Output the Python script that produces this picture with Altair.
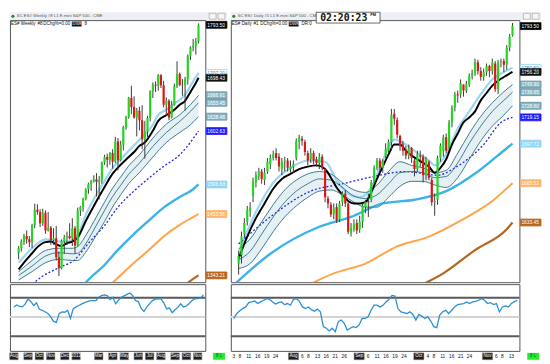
import altair as alt
import pandas as pd

FONT = "Liberation Sans"
GRID = "#e9e9e9"
GREEN = "#22d622"
RED = "#e01414"
WICK = "#3a3a3a"

# ---------------- weekly panel (left) ----------------
W_OPEN = [1383,1392,1404,1414,1408,1403,1434,1461,1457,1437,1456,1424,1429,1407,1410,1376,1356,1405,1411,1414,
          1410,1428,1397,1460,1466,1481,1498,1508,1513,1516,1511,1514,1546,1556,1551,1563,1548,1584,1550,1578,
          1610,1628,1662,1646,1627,1639,1622,1588,1602,1626,1674,1686,1684,1703,1685,1650,1657,1627,1650,1683,
          1705,1686,1685,1696,1738,1753,1756,1764]
W_HIGH = [1396,1408,1418,1424,1414,1436,1472,1471,1462,1463,1460,1457,1432,1428,1432,1386,1408,1416,1422,1437,
          1446,1432,1465,1468,1483,1500,1510,1515,1523,1527,1522,1548,1560,1562,1565,1570,1592,1590,1585,1612,
          1630,1664,1684,1665,1644,1646,1649,1621,1630,1676,1690,1692,1705,1705,1693,1663,1660,1657,1688,1728,
          1708,1696,1700,1740,1755,1768,1770,1796]
W_LOW = [1372,1386,1398,1400,1394,1392,1428,1452,1430,1432,1418,1422,1398,1398,1370,1342,1354,1382,1398,1408,
         1396,1383,1395,1450,1458,1478,1490,1495,1510,1485,1480,1508,1542,1537,1542,1535,1545,1532,1548,1568,
         1605,1625,1633,1625,1593,1604,1570,1553,1592,1620,1662,1673,1675,1680,1645,1630,1622,1625,1648,1680,
         1683,1666,1639,1686,1730,1746,1740,1760]
W_CLOSE = [1392,1404,1414,1408,1403,1434,1461,1457,1437,1456,1424,1429,1407,1410,1376,1356,1405,1411,1414,1410,
           1428,1397,1460,1466,1481,1498,1508,1513,1516,1511,1514,1546,1556,1551,1563,1548,1584,1550,1578,1610,
           1628,1662,1646,1627,1639,1622,1588,1602,1626,1674,1686,1684,1703,1685,1650,1657,1627,1650,1683,1705,
           1686,1685,1696,1738,1753,1756,1764,1793.5]
W_RSI = [60.4,62.5,61,60.5,63.7,68.8,66,62,64.8,58,57,55.5,53.6,50.5,45.5,44.4,53.6,55.3,55,57,
         48.5,58.7,60.5,62,63.7,65,66.1,67,67.1,67,70.5,72.2,72.9,72.2,68.1,70.5,63.7,67.5,70.5,72,
         73.5,74.9,72.2,67.1,66.1,59,55.9,60.4,64,67.1,68.5,68.8,68.8,64.8,58.7,59.3,54.6,57.5,60,63.7,
         60.4,61.4,64,67.1,68.8,69,69.5,72.9]
W_MONTH_POS = [0,5,9,13,18,22,30,35,39,44,48,52,57,61,65]
W_MONTH_TXT = ["Aug","Sep","Oct","Nov","Dec","2013","Mar","Apr","May","Jun","Jul","Aug","Sep","Oct","Nov"]

W_BLACK_I = [0,3,5,7,10,12,14,16,18,20,22,25,28,32,35,38,41,43,45,47,50,52,55,58,60,62,64,66,67]
W_BLACK = [1354,1372,1383,1394,1403,1404,1399,1396,1401,1404,1411,1441,1468,1502,1526,1542,1556,1565,1576,1582,
           1603,1621,1631,1641,1650,1657,1673,1689,1698.43]
W_LBLUE_I = [0,5,10,14,18,22,25,28,32,35,38,41,45,50,52,55,58,62,64,66,67]
W_LBLUE = [1366,1392,1408,1405,1404,1416,1452,1480,1513,1536,1552,1567,1587,1614,1632,1641,1652,1668,1684,1700,1707]
W_TEAL_I = [0,5,10,15,20,22,25,28,32,35,38,41,45,50,55,60,64,67]
W_TEAL1 = [1350,1370,1388,1392,1392,1395,1415,1440,1475,1500,1520,1540,1560,1590,1615,1632,1650,1666.91]
W_TEAL2 = [1343,1360,1378,1384,1382,1383,1400,1425,1460,1485,1505,1525,1545,1575,1600,1620,1638,1653.45]
W_TEAL3 = [1335,1350,1366,1372,1370,1370,1385,1408,1440,1466,1488,1508,1528,1556,1582,1600,1614,1628.48]
W_DOT_I = [3,9,15,21,26,32,37,43,49,54,60,65,67]
W_DOT = [1318,1342,1357,1372,1401,1433,1466,1495,1520,1539,1560,1589,1602.63]
W_BLUE_I = [22,25,32,37,43,49,54,60,65,67]
W_BLUE = [1310,1330,1362,1389,1418,1444,1465,1484,1498,1506.63]
W_ORANGE_I = [31,35,43,49,54,60,65,67]
W_ORANGE = [1312,1330,1366,1391,1413,1434,1448,1453.56]
W_BROWN_I = [60,63,67]
W_BROWN = [1318,1330,1343.21]
W_BADGE_V = [1793.50,1707.20,1698.43,1666.91,1653.45,1628.48,1602.63,1506.63,1453.56,1343.21]
W_BADGE_K = ["last","band","ma","teal","teal","teal","dot","sky","orange","brown"]

# ---------------- daily panel (right) ----------------
D_OPEN = [1600,1607,1624,1634,1643,1655,1666,1671,1675,1668,1675,1681,1686,1690,1687,1677,1683,1684,1677,1679,
          1686,1699,1702,1699,1690,1685,1690,1685,1682,1687,1677,1653,1648,1640,1646,1636,1650,1657,1649,1625,
          1628,1633,1628,1634,1646,1651,1652,1667,1678,1684,1678,1687,1692,1699,1722,1717,1704,1697,1693,1688,
          1694,1684,1677,1688,1687,1672,1683,1668,1650,1652,1686,1692,1703,1695,1715,1727,1738,1738,1746,1741,
          1746,1753,1755,1764,1757,1752,1756,1761,1757,1763,1742,1764,1765,1762,1776,1786]
D_HIGH = [1610,1626,1637,1647,1650,1670,1675,1678,1677,1678,1686,1689,1692,1694,1690,1686,1687,1686,1684,1684,
          1702,1705,1704,1701,1692,1694,1692,1687,1690,1689,1678,1655,1650,1649,1649,1651,1659,1660,1650,1633,
          1636,1636,1639,1649,1652,1657,1668,1680,1686,1686,1685,1698,1701,1726,1726,1719,1705,1700,1696,1697,
          1695,1686,1692,1692,1689,1687,1684,1670,1657,1688,1698,1705,1706,1717,1729,1740,1741,1750,1746,1749,
          1755,1758,1767,1766,1760,1759,1763,1762,1767,1765,1766,1767,1767,1778,1787,1796]
D_LOW = [1591,1600,1621,1631,1638,1650,1662,1668,1665,1664,1673,1677,1684,1684,1675,1672,1675,1675,1674,1674,
         1684,1693,1696,1688,1680,1682,1681,1679,1677,1676,1650,1645,1638,1636,1633,1634,1647,1646,1624,1622,
         1626,1624,1625,1629,1641,1638,1650,1665,1676,1674,1674,1686,1690,1692,1713,1702,1692,1688,1685,1685,
         1682,1671,1675,1679,1666,1668,1668,1647,1639,1648,1683,1687,1690,1693,1711,1724,1731,1735,1736,1739,
         1744,1750,1753,1754,1749,1749,1753,1752,1754,1740,1738,1760,1756,1758,1773,1785]
D_CLOSE = [1606,1622,1633,1644,1646,1667,1672,1675,1669,1674,1683,1686,1689,1686,1679,1683,1684,1678,1679,1681,
           1700,1703,1700,1691,1684,1690,1684,1682,1687,1678,1654,1649,1640,1645,1635,1649,1657,1649,1626,1629,
           1632,1627,1634,1647,1650,1650,1666,1678,1684,1678,1683,1693,1699,1721,1718,1705,1696,1692,1688,1694,
           1686,1677,1689,1687,1672,1685,1670,1650,1651,1686,1696,1703,1692,1715,1727,1738,1737,1747,1741,1746,
           1753,1755,1764,1757,1752,1756,1761,1757,1764,1742,1764,1765,1762,1776,1785,1793.5]
D_RSI = [48.6,53.7,56.5,58.8,60.5,65,65.7,66.7,64,65.7,67.4,69.1,68.4,65.7,63.5,65,65.7,62.9,64,62.3,
         68.4,69.1,66.3,60.5,58.8,60.5,57.5,56.1,58.2,55.4,40.1,38.4,35.6,38.4,34.9,45.2,46.9,43.5,36.6,38.4,
         40.1,39.1,41.8,48.6,48.6,50.3,57.1,62.3,62.3,60.5,62.3,65.7,68.4,72.5,71.8,58.8,55.4,54.7,53.7,55.4,
         52.7,46.9,52.7,51,48.6,50.3,45.9,40.1,39.1,52,55.4,57.1,53.7,57.1,60.5,62.9,63.5,64,65.7,64,
         65.7,66.3,67.4,69.1,67.4,64,65,62.9,64,55.4,60.5,61.6,60.5,64,66,67.4]
D_DAY_POS = [0,2,5,8,11,14,23,25,28,31,34,37,45,48,51,54,57,65,67,70,73,76,79,88,90,93]
D_DAY_TXT = ["3","8","11","16","19","24","6","8","13","16","21","26","6","11","16","19","24",
             "4","8","11","16","21","24","6","8","13"]
D_MONTH_POS = [20,42,62,85]
D_MONTH_TXT = ["Aug","Sep","Oct","Nov"]

D_BLACK_I = [0,3,6,9,12,15,18,21,24,27,30,32,34,36,38,40,42,44,46,48,50,52,54,56,58,60,62,64,66,68,70,72,74,76,78,
             80,82,84,86,88,90,92,95]
D_BLACK = [1604,1622,1637,1649,1661,1669,1673,1677,1679,1680,1677,1670,1662,1656,1651,1649,1649,1650,1658,1669,
           1679,1689,1697,1697,1692,1688,1685,1682,1679,1674,1678,1685,1697,1706,1715,1719,1724,1733,1739,1745,
           1749,1752,1756.2]
D_LBLUE_I = [0,6,12,18,24,30,34,38,42,46,50,54,58,62,66,68,72,76,80,84,88,92,95]
D_LBLUE = [1609,1642,1666,1678,1684,1683,1668,1657,1654,1662,1684,1701,1697,1690,1684,1680,1689,1710,1724,1738,
           1750,1756,1759.5]
D_TEAL_I = [0,4,8,12,16,20,24,28,32,36,40,44,48,52,56,60,64,68,72,76,80,84,88,92,95]
D_TEAL1 = [1612,1620,1634,1648,1660,1668,1673,1675,1673,1666,1660,1658,1664,1675,1683,1680,1678,1674,1676,1690,
           1706,1720,1731,1740,1745.9]
D_TEAL2 = [1603,1610,1624,1638,1650,1659,1665,1669,1668,1662,1655,1653,1656,1665,1674,1675,1674,1670,1671,1682,
           1698,1712,1724,1733,1739.65]
D_TEAL3 = [1596,1600,1612,1626,1638,1647,1654,1659,1660,1656,1650,1646,1646,1654,1663,1667,1667,1664,1662,1670,
           1685,1700,1712,1721,1728.6]
D_DOT_I = [0,11,25,36,47,58,69,75,80,85,91,95]
D_DOT = [1616,1638,1659,1665,1671,1675,1672,1678,1686,1697,1715,1719.15]
D_BLUE_I = [-1,11,28,39,50,61,72,83,93,95]
D_BLUE = [1584,1608,1630,1638,1649,1652,1659,1675,1694,1697.72]
D_ORANGE_I = [22,33,44,55,66,77,88,95]
D_ORANGE = [1580,1592,1600,1614,1622,1635,1651,1665.52]
D_BROWN_I = [60,71,82,93,95]
D_BROWN = [1579,1592,1611,1628,1633.45]
D_BADGE_V = [1793.50,1759.50,1756.20,1745.90,1739.65,1728.60,1719.15,1697.72,1665.52,1633.45]
D_BADGE_K = ["last","band","ma","teal","teal","teal","dot","sky","orange","brown"]

RSI_LEVELS = [70, 50, 30]

# ---------------- styles ----------------
BADGE_STYLE = {  # fill, stroke, text
    "last": ("#000000", "#000000", "#ffffff"),
    "band": ("#ffffff", "#8fd3f0", "#4a8fb0"),
    "ma": ("#111111", "#111111", "#ffffff"),
    "teal": ("#8cb6c4", "#5d8d9c", "#ffffff"),
    "dot": ("#1c1cff", "#1c1cff", "#ffffff"),
    "sky": ("#8fd5f6", "#8fd5f6", "#ffffff"),
    "orange": ("#ffb468", "#ffb468", "#ffffff"),
    "brown": ("#b8661c", "#b8661c", "#ffffff"),
}
LEVEL_STYLE = {70: ("#5a5a5a", 2), 50: ("#d4d4d4", 2), 30: ("#5a5a5a", 2)}

PW_L, PW_R, PH, IH = 199, 294, 267, 68


def one():
    return pd.DataFrame({"k": [0]})


def txt(x, y, s, size=5, color="#111", weight="normal", font=FONT, align="left"):
    return alt.Chart(one()).mark_text(align=align, baseline="middle", fontSize=size, font=font,
                                      color=color, fontWeight=weight).encode(
        x=alt.value(x), y=alt.value(y), text=alt.value(s))


def box(x1, x2, y1, y2, fill, stroke=None, sw=0.6):
    kw = dict(color=fill)
    if stroke:
        kw.update(stroke=stroke, strokeWidth=sw)
    return alt.Chart(one()).mark_rect(**kw).encode(
        x=alt.value(x1), x2=alt.value(x2), y=alt.value(y1), y2=alt.value(y2))


def line(idx, vals, color, width, xs, ys, dash=None, interp="monotone"):
    kw = dict(color=color, strokeWidth=width, clip=True, interpolate=interp)
    if dash:
        kw["strokeDash"] = dash
    return alt.Chart(pd.DataFrame({"i": idx, "v": vals})).mark_line(**kw).encode(
        x=alt.X("i:Q", scale=xs, axis=None), y=alt.Y("v:Q", scale=ys, axis=None))


def price_panel(o, h, l, c, xs, ys, W, ytick, grid_pos, lines, teal, badge_v, badge_k, hh,
                title, head_parts, tag_x, tail_x, tail, clock):
    n = len(c)
    df = pd.DataFrame({"i": list(range(n)), "o": o, "h": h, "l": l, "c": c})
    xax = alt.Axis(values=grid_pos, labels=False, ticks=False, domain=False, grid=True,
                   gridColor=GRID, title=None)
    yax = alt.Axis(orient="right", values=ytick, format=".2f", labelFontSize=5.5, labelFont=FONT,
                   labelColor="#222", tickSize=2, tickColor="#777", domain=False, grid=True,
                   gridColor=GRID, title=None, labelPadding=1, labelOverlap=False)
    layers = []
    tdf = pd.DataFrame({"i": teal[0], "a": teal[1], "b": teal[2], "c": teal[3]})
    layers.append(alt.Chart(tdf).mark_area(color="#d3e6ee", opacity=0.6, clip=True, interpolate="monotone").encode(
        x=alt.X("i:Q", scale=xs, axis=xax), y=alt.Y("a:Q", scale=ys, axis=yax), y2="c:Q"))
    for (idx, vals, color, width, dash) in lines[:-1]:
        layers.append(line(idx, vals, color, width, xs, ys, dash))
    for col in ["a", "b", "c"]:
        layers.append(alt.Chart(tdf).mark_line(color="#3d7b8c", strokeWidth=1, clip=True,
                                               interpolate="monotone").encode(
            x=alt.X("i:Q", scale=xs, axis=None), y=alt.Y(col + ":Q", scale=ys, axis=None)))
    idx, vals, color, width, dash = lines[-1]
    layers.append(line(idx, vals, color, width, xs, ys, dash))
    layers.append(alt.Chart(df).mark_rule(color=WICK, strokeWidth=1, clip=True).encode(
        x=alt.X("i:Q", scale=xs, axis=None), y=alt.Y("l:Q", scale=ys, axis=None), y2="h:Q"))
    layers.append(alt.Chart(df).mark_bar(size=2.2, clip=True).encode(
        x=alt.X("i:Q", scale=xs, axis=None), y=alt.Y("o:Q", scale=ys, axis=None), y2="c:Q",
        color=alt.condition("datum.c >= datum.o", alt.value(GREEN), alt.value(RED))))
    # value badges on the price axis
    bdf = pd.DataFrame({"v": badge_v, "k": badge_k})
    bdf["t"] = [f"{v:.2f}" for v in badge_v]
    bdf["f"] = [BADGE_STYLE[k][0] for k in badge_k]
    bdf["s"] = [BADGE_STYLE[k][1] for k in badge_k]
    bdf["tc"] = [BADGE_STYLE[k][2] for k in badge_k]
    layers.append(alt.Chart(bdf).transform_calculate(lo=f"datum.v - {hh}", hi=f"datum.v + {hh}").mark_rect(
        strokeWidth=0.8).encode(
        x=alt.value(W + 1), x2=alt.value(W + 22), y=alt.Y("lo:Q", scale=ys, axis=None), y2="hi:Q",
        color=alt.Color("f:N", scale=None), stroke=alt.Stroke("s:N", scale=None)))
    layers.append(alt.Chart(bdf).mark_text(align="left", baseline="middle", fontSize=5, font=FONT).encode(
        x=alt.value(W + 2), y=alt.Y("v:Q", scale=ys, axis=None), text="t:N",
        color=alt.Color("tc:N", scale=None)))
    # window title strip
    layers.append(box(0, W + 22, -8, 0, "#eceff3"))
    layers.append(alt.Chart(one()).mark_point(filled=True, color="#2f7d3c", size=10, opacity=1).encode(
        x=alt.value(3), y=alt.value(-4)))
    layers.append(txt(7, -4, title, size=4.3, color="#555"))
    for bx in (W + 4, W + 13):
        layers.append(box(bx, bx + 7, -7, -1, "#f6f6f6", "#999"))
    # header text inside the plot
    for (hx, s) in head_parts:
        layers.append(txt(hx, 4, s, size=4.6))
    layers.append(box(tag_x, tag_x + 10, 1.5, 6.5, "#111"))
    layers.append(txt(tag_x + 0.8, 4, "DWK", size=4.3, color="#fff"))
    layers.append(txt(tail_x, 4, tail, size=4.6))
    if clock:
        layers.append(box(87, 152, -8, 3, "#ffffff", "#444", 0.8))
        layers.append(txt(91, -2.5, "02:20:23", size=10, font="DejaVu Sans Mono", weight="bold"))
        layers.append(txt(142, -5.5, "PM", size=4, weight="bold"))
    return alt.layer(*layers).properties(width=W, height=PH)


def rsi_panel(rsi, xs, W, grid_pos, labels, boxes, hw):
    ys = alt.Scale(domain=[14.9, 84.1], nice=False, zero=False)
    xax = alt.Axis(values=grid_pos, labels=False, ticks=False, domain=False, grid=True,
                   gridColor=GRID, title=None)
    yax = alt.Axis(orient="right", values=[20, 30, 40, 50, 60, 70, 80], format="d", labelFontSize=5.5,
                   labelFont=FONT, labelColor="#222", tickSize=2, tickColor="#777", domain=False, grid=True,
                   gridColor=GRID, title=None, labelPadding=1)
    df = pd.DataFrame({"i": list(range(len(rsi))), "r": rsi})
    layers = []
    for lv in RSI_LEVELS:
        col, w = LEVEL_STYLE[lv]
        layers.append(alt.Chart(pd.DataFrame({"lv": [lv]})).mark_rule(color=col, strokeWidth=w).encode(
            y=alt.Y("lv:Q", scale=ys, axis=None)))
    layers.append(alt.Chart(df).mark_line(color="#2a8fd4", strokeWidth=1.3).encode(
        x=alt.X("i:Q", scale=xs, axis=xax), y=alt.Y("r:Q", scale=ys, axis=yax)))
    # date labels below the panel
    if labels is not None:
        ldf = pd.DataFrame({"i": labels[0], "t": labels[1]})
        layers.append(alt.Chart(ldf).mark_text(fontSize=5, font=FONT, color="#111", baseline="middle").encode(
            x=alt.X("i:Q", scale=xs, axis=None), y=alt.value(IH + 5.5), text="t:N"))
    bdf = pd.DataFrame({"i": boxes[0], "t": boxes[1]})
    layers.append(alt.Chart(bdf).transform_calculate(a=f"datum.i - {hw}", b=f"datum.i + {hw}").mark_rect(
        color="#1e1e1e", stroke="#888", strokeWidth=0.5).encode(
        x=alt.X("a:Q", scale=xs, axis=None), x2="b:Q", y=alt.value(IH + 2), y2=alt.value(IH + 9)))
    layers.append(alt.Chart(bdf).mark_text(fontSize=4.6, font=FONT, color="#ffffff", baseline="middle").encode(
        x=alt.X("i:Q", scale=xs, axis=None), y=alt.value(IH + 5.5), text="t:N"))
    # status box
    layers.append(box(W + 8, W + 20, IH + 2, IH + 9, "#22ee22"))
    layers.append(txt(W + 14, IH + 5.5, "8 L", size=4.5, color="#064", align="center"))
    return alt.layer(*layers).properties(width=W, height=IH)


WX = alt.Scale(domain=[-1.4, 67.7], nice=False, zero=False)
WY = alt.Scale(domain=[1331, 1802], nice=False, zero=False)
DX = alt.Scale(domain=[-1.0, 95.7], nice=False, zero=False)
DY = alt.Scale(domain=[1584.8, 1798.4], nice=False, zero=False)

w_lines = [
    (W_LBLUE_I, W_LBLUE, "#9ad6f0", 2.2, None),
    (W_DOT_I, W_DOT, "#2222dd", 1.3, [2, 2]),
    (W_BLUE_I, W_BLUE, "#3ab2ea", 2.4, None),
    (W_ORANGE_I, W_ORANGE, "#ffa447", 2.0, None),
    (W_BROWN_I, W_BROWN, "#b5651d", 2.2, None),
    (W_BLACK_I, W_BLACK, "#000000", 2.0, None),
]
d_lines = [
    (D_LBLUE_I, D_LBLUE, "#9ad6f0", 2.2, None),
    (D_DOT_I, D_DOT, "#2222dd", 1.3, [2, 2]),
    (D_BLUE_I, D_BLUE, "#3ab2ea", 2.4, None),
    (D_ORANGE_I, D_ORANGE, "#ffa447", 2.0, None),
    (D_BROWN_I, D_BROWN, "#b5651d", 2.2, None),
    (D_BLACK_I, D_BLACK, "#000000", 2.0, None),
]

left_price = price_panel(W_OPEN, W_HIGH, W_LOW, W_CLOSE, WX, WY, PW_L, list(range(1340, 1801, 20)),
                         W_MONTH_POS, w_lines, (W_TEAL_I, W_TEAL1, W_TEAL2, W_TEAL3),
                         W_BADGE_V, W_BADGE_K, 6.2,
                         "SC ES#  Weekly  #8  L1  E-mini S&P 500 - CME",
                         [(1, "ES#"), (11, "Weekly"), (28, "#8"), (34, "DChg%=0.00")], 63, 76, "8", False)
right_price = price_panel(D_OPEN, D_HIGH, D_LOW, D_CLOSE, DX, DY, PW_R, list(range(1590, 1801, 10)),
                          D_DAY_POS + D_MONTH_POS, d_lines, (D_TEAL_I, D_TEAL1, D_TEAL2, D_TEAL3),
                          D_BADGE_V, D_BADGE_K, 2.8,
                          "SC ES#  Daily  #1  L1  E-mini S&P 500 - CME",
                          [(1, "ES#"), (11, "Daily"), (23, "#1"), (30, "DChg%=0.00")], 59, 72, "DR:0", True)
left_rsi = rsi_panel(W_RSI, WX, PW_L, W_MONTH_POS, None, (W_MONTH_POS, W_MONTH_TXT), 1.5)
right_rsi = rsi_panel(D_RSI, DX, PW_R, D_DAY_POS + D_MONTH_POS, (D_DAY_POS, D_DAY_TXT),
                      (D_MONTH_POS, D_MONTH_TXT), 1.7)

chart = alt.concat(left_price, right_price, left_rsi, right_rsi, columns=2,
                   spacing={"row": 2, "column": 26}, bounds="flush", align="each").properties(
    padding={"left": 0, "top": 0, "right": 0, "bottom": 0}
).configure_view(stroke="#555", strokeWidth=1)

chart.save("out.html", embed_options={"renderer": "svg", "actions": False})
